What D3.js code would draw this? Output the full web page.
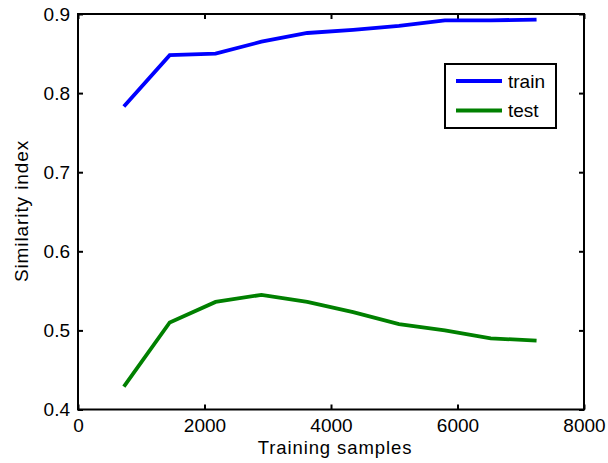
<!DOCTYPE html>
<html>
<head>
<meta charset="utf-8">
<script src="https://cdn.jsdelivr.net/npm/d3@7"></script>
<style>
  html, body { margin: 0; padding: 0; background: #fff; }
  svg { display: block; }
  text { font-family: "Liberation Sans", Arial, Helvetica, sans-serif; fill: #000; }
</style>
</head>
<body>
<div id="chart"></div>
<script>
const samples = [725, 1450, 2175, 2900, 3625, 4350, 5075, 5800, 6525, 7250];
const trainValues = [0.783, 0.848, 0.850, 0.865, 0.876, 0.880, 0.885, 0.892, 0.892, 0.893];
const testValues = [0.429, 0.510, 0.536, 0.545, 0.536, 0.523, 0.508, 0.500, 0.490, 0.487];
const seriesNames = ["train", "test"];
const seriesColors = ["#0000ff", "#008000"];
const xTicks = [0, 2000, 4000, 6000, 8000];
const yTicks = [0.4, 0.5, 0.6, 0.7, 0.8, 0.9];
const xLabel = "Training samples";
const yLabel = "Similarity index";

const W = 608, H = 463;
const m = {left: 78, top: 14, right: 24, bottom: 53.5};
const iw = W - m.left - m.right, ih = H - m.top - m.bottom;
const fs = "19px";

const svg = d3.select("#chart").append("svg").attr("width", W).attr("height", H);
const g = svg.append("g").attr("transform", `translate(${m.left},${m.top})`);

const x = d3.scaleLinear().domain([0, 8000]).range([0, iw]);
const y = d3.scaleLinear().domain([0.4, 0.9]).range([ih, 0]);

const fmtY = d => d.toFixed(1);
const fmtX = d => String(d);
const tl = 5;

const ax = g.append("g").attr("transform", `translate(0,${ih})`)
  .call(d3.axisBottom(x).tickValues(xTicks).tickFormat(fmtX).tickSizeInner(-tl).tickSizeOuter(0).tickPadding(9.5));
const axTop = g.append("g")
  .call(d3.axisTop(x).tickValues(xTicks).tickFormat("").tickSizeInner(-tl).tickSizeOuter(0));
const ay = g.append("g")
  .call(d3.axisLeft(y).tickValues(yTicks).tickFormat(fmtY).tickSizeInner(-tl).tickSizeOuter(0).tickPadding(8));
const ayR = g.append("g").attr("transform", `translate(${iw},0)`)
  .call(d3.axisRight(y).tickValues(yTicks).tickFormat("").tickSizeInner(-tl).tickSizeOuter(0));

[ax, axTop, ay, ayR].forEach(a => {
  a.select(".domain").remove();
  a.selectAll(".tick line").attr("stroke", "#000").attr("stroke-width", 2);
  a.selectAll(".tick text").style("font-size", fs).attr("fill", "#000");
});

g.append("rect").attr("x", 0).attr("y", 0).attr("width", iw).attr("height", ih)
  .attr("fill", "none").attr("stroke", "#000").attr("stroke-width", 2);

const line = d3.line().x((d, i) => x(samples[i])).y(d => y(d));
[trainValues, testValues].forEach((vals, k) => {
  g.append("path").datum(vals).attr("d", line)
    .attr("fill", "none").attr("stroke", seriesColors[k]).attr("stroke-width", 3.8)
    .attr("stroke-linejoin", "miter");
});

svg.append("text").attr("x", 335).attr("y", 453.5)
  .attr("text-anchor", "middle").style("font-size", "18.5px").style("letter-spacing", "0.9px").text(xLabel);
svg.append("text").attr("transform", `translate(28,211) rotate(-90)`)
  .attr("text-anchor", "middle").style("font-size", fs).style("letter-spacing", "0.9px").text(yLabel);

const lg = svg.append("g").attr("transform", "translate(445,64)");
lg.append("rect").attr("width", 111).attr("height", 64)
  .attr("fill", "#fff").attr("stroke", "#000").attr("stroke-width", 2);
seriesNames.forEach((name, k) => {
  const yy = 17 + k * 29.5;
  lg.append("line").attr("x1", 11).attr("x2", 57).attr("y1", yy).attr("y2", yy)
    .attr("stroke", seriesColors[k]).attr("stroke-width", 3.8);
  lg.append("text").attr("x", 63).attr("y", yy).attr("dy", "0.35em")
    .style("font-size", fs).text(name);
});
</script>
</body>
</html>
